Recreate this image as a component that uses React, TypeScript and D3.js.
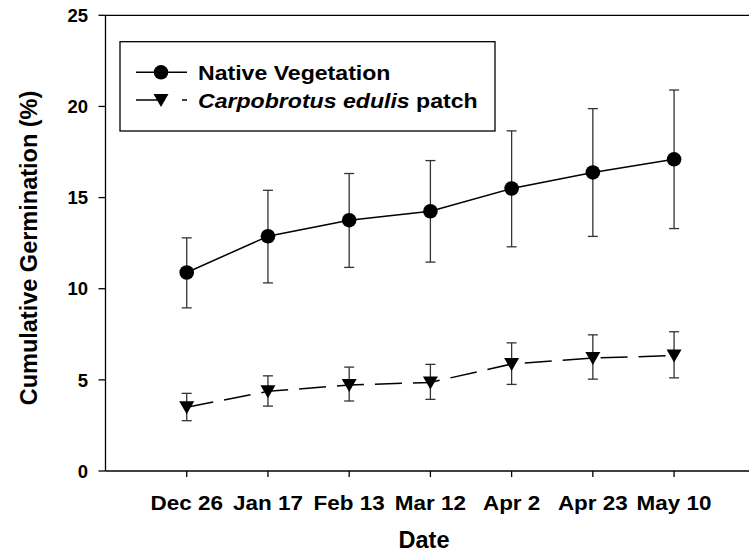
import React from "react";
import * as d3 from "d3";

const dates = ["Dec 26", "Jan 17", "Feb 13", "Mar 12", "Apr 2", "Apr 23", "May 10"];
const nativeMean = [10.89, 12.88, 13.76, 14.25, 15.5, 16.38, 17.1];
const nativeUpper = [12.79, 15.4, 16.32, 17.03, 18.66, 19.88, 20.9];
const nativeLower = [8.95, 10.32, 11.17, 11.46, 12.3, 12.87, 13.3];
const carpoMean = [3.5, 4.37, 4.72, 4.86, 5.87, 6.2, 6.33];
const carpoUpper = [4.26, 5.22, 5.7, 5.85, 7.03, 7.47, 7.64];
const carpoLower = [2.76, 3.56, 3.84, 3.93, 4.75, 5.04, 5.11];
const yTicks = [0, 5, 10, 15, 20, 25];
const seriesNames = ["Native Vegetation", "Carpobrotus edulis", " patch"];

const W = 749;
const H = 555;
const FONT = "'Liberation Sans', Arial, Helvetica, sans-serif";

export default function App() {
  const x = d3.scaleLinear().domain([0, 8]).range([105.5, 755.3]);
  const y = d3.scaleLinear().domain([0, 25]).range([471, 15.3]);
  const line = d3
    .line<number>()
    .x((_, i) => x(i + 1))
    .y((d) => y(d));

  const errorBars = (upper: number[], lower: number[], key: string) =>
    upper.map((u, i) => {
      const cx = x(i + 1);
      return (
        <g key={key + i} stroke="#333" strokeWidth={1.3}>
          <line x1={cx} x2={cx} y1={y(u)} y2={y(lower[i])} />
          <line x1={cx - 5} x2={cx + 5} y1={y(u)} y2={y(u)} />
          <line x1={cx - 5} x2={cx + 5} y1={y(lower[i])} y2={y(lower[i])} />
        </g>
      );
    });

  const tri = (cx: number, cy: number) =>
    `M${cx - 7.5},${cy - 6} L${cx + 7.5},${cy - 6} L${cx},${cy + 7} Z`;

  const x0 = x(0);
  const yBase = y(0);
  const yTop = y(25);

  return (
    <div style={{ position: "fixed", left: 0, top: 0 }}>
      <svg width={W} height={H} style={{ display: "block", background: "#fff" }} fontFamily={FONT}>
        <rect width={W} height={H} fill="#fff" />
        {/* frame */}
        <g stroke="#000" strokeWidth={1.3} fill="none">
          <line x1={x0} x2={x0} y1={yTop} y2={yBase} />
          <line x1={x0} x2={x(8)} y1={yTop} y2={yTop} />
          <line x1={x0} x2={x(8)} y1={yBase} y2={yBase} />
        </g>
        {/* y ticks */}
        {yTicks.map((t) => (
          <g key={"yt" + t}>
            <line x1={x0 - 7} x2={x0} y1={y(t)} y2={y(t)} stroke="#000" strokeWidth={1.3} />
            <text
              x={88}
              y={y(t)}
              dy="0.36em"
              textAnchor="end"
              fontSize={18.5}
              fontWeight="bold"
            >
              {t}
            </text>
          </g>
        ))}
        {/* x ticks */}
        {dates.map((d, i) => (
          <g key={"xt" + i}>
            <line x1={x(i + 1)} x2={x(i + 1)} y1={yBase} y2={yBase + 6} stroke="#000" strokeWidth={1.3} />
            <g transform={`translate(${x(i + 1)},510) scale(1.07,1)`}>
              <text x={0} y={0} textAnchor="middle" fontSize={21} fontWeight="bold">
                {d}
              </text>
            </g>
          </g>
        ))}
        <text x={424} y={548} textAnchor="middle" fontSize={23.5} fontWeight="bold">
          Date
        </text>
        <text
          transform={`translate(37,248) rotate(-90)`}
          textAnchor="middle"
          fontSize={23.5}
          fontWeight="bold"
        >
          Cumulative Germination (%)
        </text>

        {/* error bars */}
        {errorBars(nativeUpper, nativeLower, "n")}
        {errorBars(carpoUpper, carpoLower, "c")}

        {/* lines */}
        <path d={line(nativeMean) || ""} fill="none" stroke="#000" strokeWidth={1.5} />
        <path
          d={line(carpoMean) || ""}
          fill="none"
          stroke="#000"
          strokeWidth={1.5}
          strokeDasharray="27,11"
        />

        {/* markers */}
        {nativeMean.map((v, i) => (
          <circle key={"nm" + i} cx={x(i + 1)} cy={y(v)} r={7.3} fill="#000" />
        ))}
        {carpoMean.map((v, i) => (
          <path key={"cm" + i} d={tri(x(i + 1), y(v))} fill="#000" />
        ))}

        {/* legend */}
        <rect x={120} y={41.7} width={375} height={89.3} fill="#fff" stroke="#000" strokeWidth={1.3} />
        <line x1={136} x2={187} y1={72.3} y2={72.3} stroke="#000" strokeWidth={1.5} />
        <circle cx={161} cy={72.3} r={7.3} fill="#000" />
        <g transform="translate(198,72.3) scale(1.1,1)">
          <text x={0} y={0} dy="0.36em" fontSize={21} fontWeight="bold">
            {seriesNames[0]}
          </text>
        </g>
        <line
          x1={136}
          x2={187}
          y1={100}
          y2={100}
          stroke="#000"
          strokeWidth={1.5}
          strokeDasharray="29,17"
        />
        <path d={tri(161, 100)} fill="#000" />
        <g transform="translate(198,100) scale(1.1,1)">
          <text x={0} y={0} dy="0.36em" fontSize={21} fontWeight="bold">
            <tspan fontStyle="italic">{seriesNames[1]}</tspan>
            <tspan>{seriesNames[2]}</tspan>
          </text>
        </g>
      </svg>
    </div>
  );
}
